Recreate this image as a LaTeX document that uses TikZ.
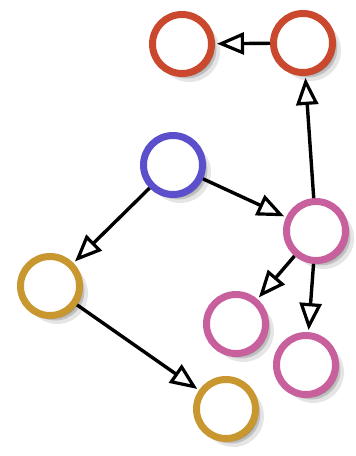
\documentclass[tikz,border=0pt]{standalone}
\usetikzlibrary{arrows.meta,shadows}
\definecolor{cred}{HTML}{C9482E}
\definecolor{cblue}{HTML}{5B4FCB}
\definecolor{cpink}{HTML}{C8609E}
\definecolor{corange}{HTML}{C9972F}
\tikzset{
  vtx/.style={circle, minimum size=59pt, inner sep=0pt, line width=7pt, fill=white,
    drop shadow={shadow xshift=7pt, shadow yshift=-7pt, opacity=0.10, fill=black, shadow scale=1.04},
    drop shadow={shadow xshift=5pt, shadow yshift=-5pt, opacity=0.16, fill=black},
    drop shadow={shadow xshift=3pt, shadow yshift=-3pt, opacity=0.22, fill=black}},
  conn/.style={line width=3.4pt, black, shorten >=2pt,
    -{Triangle[open, length=27pt, width=22pt, line width=3.2pt]}}
}
\begin{document}
\begin{tikzpicture}[x=1pt,y=-1pt]
\useasboundingbox (0,0) rectangle (356,456);
\node[vtx, draw=cred] (rl) at (182,44) {};
\node[vtx, draw=cred] (rr) at (303,43) {};
\node[vtx, draw=cblue] (b) at (173,165) {};
\node[vtx, draw=cpink] (pt) at (316,231) {};
\node[vtx, draw=corange] (ol) at (50,286) {};
\node[vtx, draw=cpink] (pm) at (236,324) {};
\node[vtx, draw=cpink] (pb) at (306,365) {};
\node[vtx, draw=corange] (ob) at (226,409) {};
\draw[conn] (rr) -- (rl);
\draw[conn] (pt) -- (rr);
\draw[conn] (b) -- (pt);
\draw[conn] (b) -- (ol);
\draw[conn] (ol) -- (ob);
\draw[conn] (pt) -- (pm);
\draw[conn] (pt) -- (pb);
\end{tikzpicture}
\end{document}
